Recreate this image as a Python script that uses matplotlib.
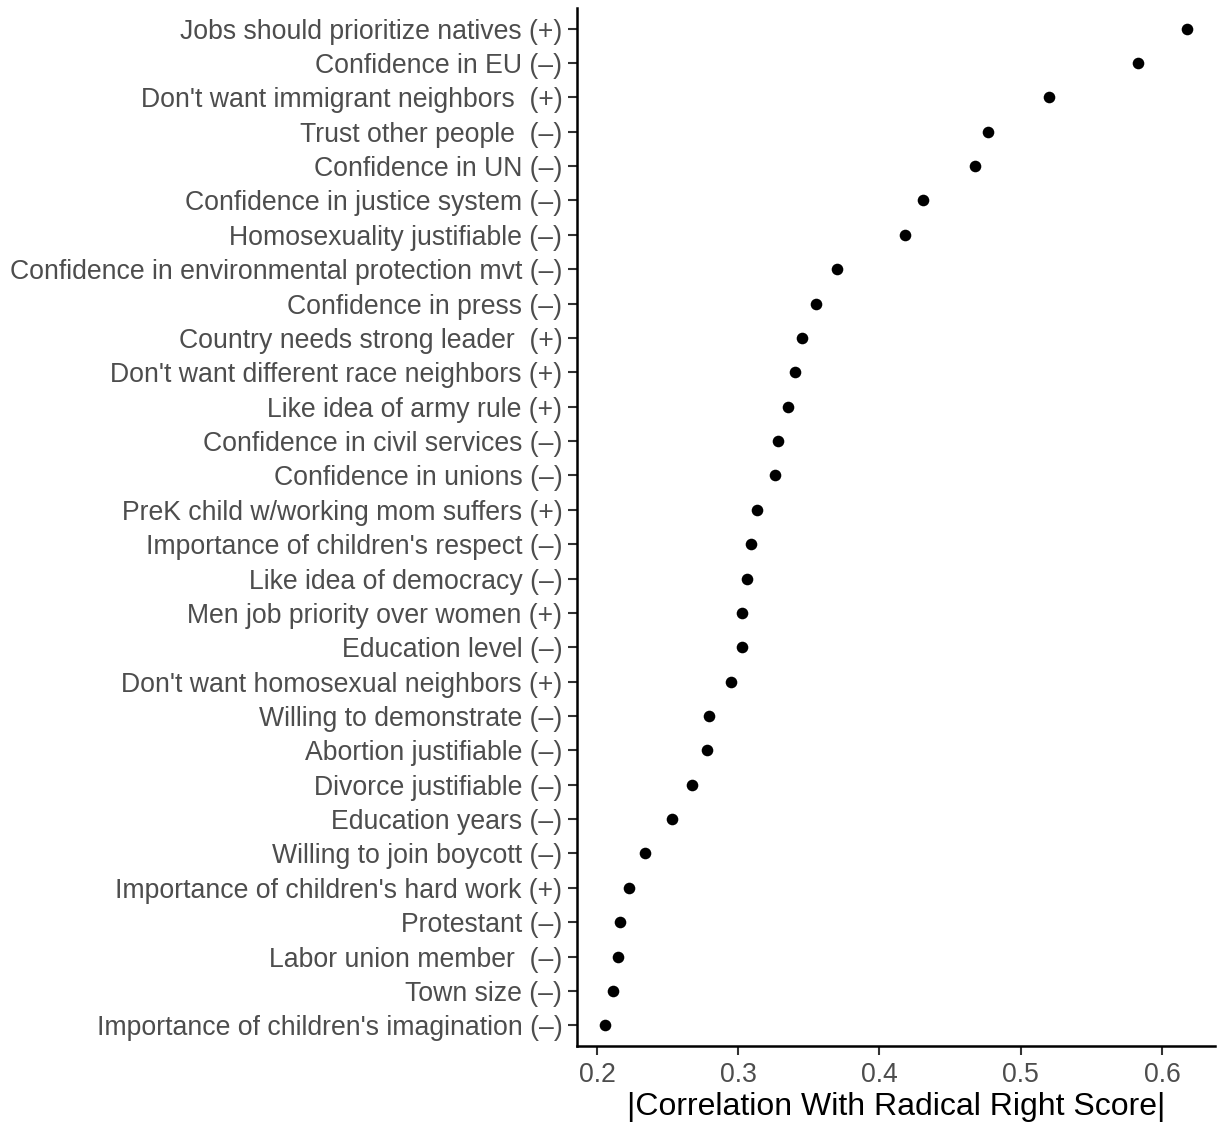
import matplotlib.pyplot as plt

# Items, top to bottom, with the sign of the correlation in the label
labels = [
    "Jobs should prioritize natives (+)",
    "Confidence in EU (\u2013)",
    "Don't want immigrant neighbors  (+)",
    "Trust other people  (\u2013)",
    "Confidence in UN (\u2013)",
    "Confidence in justice system (\u2013)",
    "Homosexuality justifiable (\u2013)",
    "Confidence in environmental protection mvt (\u2013)",
    "Confidence in press (\u2013)",
    "Country needs strong leader  (+)",
    "Don't want different race neighbors (+)",
    "Like idea of army rule (+)",
    "Confidence in civil services (\u2013)",
    "Confidence in unions (\u2013)",
    "PreK child w/working mom suffers (+)",
    "Importance of children's respect (\u2013)",
    "Like idea of democracy (\u2013)",
    "Men job priority over women (+)",
    "Education level (\u2013)",
    "Don't want homosexual neighbors (+)",
    "Willing to demonstrate (\u2013)",
    "Abortion justifiable (\u2013)",
    "Divorce justifiable (\u2013)",
    "Education years (\u2013)",
    "Willing to join boycott (\u2013)",
    "Importance of children's hard work (+)",
    "Protestant (\u2013)",
    "Labor union member  (\u2013)",
    "Town size (\u2013)",
    "Importance of children's imagination (\u2013)",
]

abs_corr = [
    0.618, 0.583, 0.520, 0.477, 0.468, 0.431, 0.418, 0.370, 0.355, 0.345,
    0.340, 0.335, 0.328, 0.326, 0.313, 0.309, 0.306, 0.303, 0.303, 0.295,
    0.279, 0.278, 0.267, 0.253, 0.234, 0.223, 0.216, 0.215, 0.211, 0.206,
]

xticks = [0.2, 0.3, 0.4, 0.5, 0.6]

plt.rcParams['font.family'] = ['Liberation Sans', 'DejaVu Sans']

fig = plt.figure(figsize=(12.19, 11.27), dpi=100)
ax = fig.add_axes([0.4733, 0.0719, 0.5234, 0.921])

ypos = list(range(len(labels), 0, -1))
ax.scatter(abs_corr, ypos, s=70, color='black', zorder=3, linewidths=0)

ax.set_yticks(ypos)
ax.set_yticklabels(labels)
ax.set_ylim(0.4, len(labels) + 0.6)
ax.set_xlim(0.1858, 0.6376)
ax.set_xticks(xticks)
ax.set_xticklabels([str(t) for t in xticks])

for s in ['top', 'right']:
    ax.spines[s].set_visible(False)
for s in ['left', 'bottom']:
    ax.spines[s].set_linewidth(1.8)
    ax.spines[s].set_color('black')

ax.tick_params(axis='both', colors='#333333', labelcolor='#4D4D4D',
               labelsize=19.2, length=6.5, width=1.5)
ax.tick_params(axis='y', pad=4)
ax.tick_params(axis='x', pad=5)

ax.set_xlabel('|Correlation With Radical Right Score|', fontsize=23,
              color='black', labelpad=3)

fig.savefig('out.png', dpi=100, facecolor='white')
